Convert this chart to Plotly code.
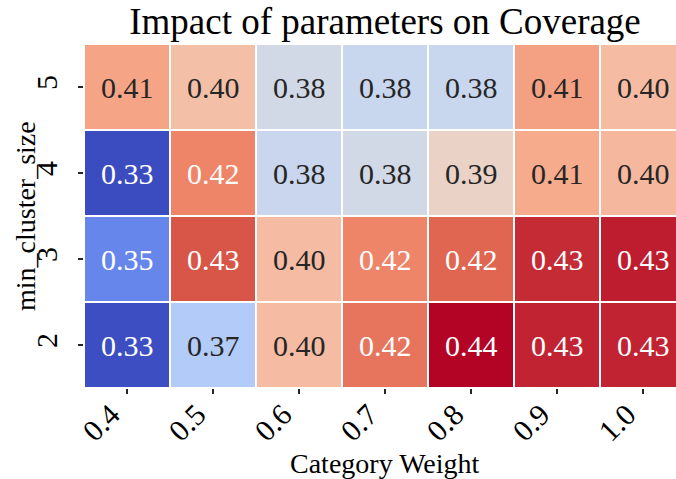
import plotly.graph_objects as go

# ---- data ----
category_weight = ["0.4", "0.5", "0.6", "0.7", "0.8", "0.9", "1.0"]
min_cluster_size = ["2", "3", "4", "5"]  # bottom to top
coverage_size2 = [0.3315, 0.3692, 0.3999, 0.4190, 0.4370, 0.4328, 0.4328]
coverage_size3 = [0.3455, 0.4255, 0.3999, 0.4158, 0.4222, 0.4317, 0.4338]
coverage_size4 = [0.3310, 0.4155, 0.3766, 0.3798, 0.3904, 0.4055, 0.4010]
coverage_size5 = [0.4073, 0.3988, 0.3798, 0.3765, 0.3765, 0.4084, 0.3999]
z = [coverage_size2, coverage_size3, coverage_size4, coverage_size5]

title_text = "Impact of parameters on Coverage"
x_title = "Category Weight"
y_title = "min_cluster_size"

# ---- style ----
coolwarm_hex = ["#3b4cc0", "#5977e3", "#7b9ff9", "#9ebeff", "#c0d4f5", "#dddcdc",
                "#f2cbb7", "#f7ac8e", "#ee8468", "#d65244", "#b40426"]
colorscale = [[i / 10, c] for i, c in enumerate(coolwarm_hex)]
FONT = "Liberation Serif, Times New Roman, serif"

zmin = min(min(r) for r in z)
zmax = max(max(r) for r in z)


def hex2rgb(h):
    h = h.lstrip("#")
    return [int(h[i:i + 2], 16) for i in (0, 2, 4)]


def cmap(t):
    t = max(0.0, min(1.0, t))
    k = min(int(t * 10), 9)
    f = t * 10 - k
    a, b = hex2rgb(coolwarm_hex[k]), hex2rgb(coolwarm_hex[k + 1])
    return [a[i] + (b[i] - a[i]) * f for i in range(3)]


def luminance(rgb):
    out = []
    for c in rgb:
        c = c / 255
        out.append(c / 12.92 if c <= 0.03928 else ((c + 0.055) / 1.055) ** 2.4)
    return 0.2126 * out[0] + 0.7152 * out[1] + 0.0722 * out[2]


fig = go.Figure(go.Heatmap(
    z=z, x=category_weight, y=min_cluster_size,
    colorscale=colorscale, zmin=zmin, zmax=zmax,
    showscale=False, xgap=2, ygap=2, hoverinfo="skip",
))

for ri, row in enumerate(z):
    for ci, v in enumerate(row):
        t = (v - zmin) / (zmax - zmin)
        col = "#262626" if luminance(cmap(t)) > 0.408 else "#ffffff"
        fig.add_annotation(x=ci, y=ri, xref="x", yref="y",
                           text=f"{v:.2f}", showarrow=False,
                           font=dict(family=FONT, size=30, color=col))

W, H = 676, 479
L, R, T, B = 84, 0, 44, 91
col_px = 86
x_end = -0.5 + (W - L - R) / col_px

fig.update_layout(
    width=W, height=H,
    margin=dict(l=L, r=R, t=T, b=B, autoexpand=False),
    paper_bgcolor="white", plot_bgcolor="white",
    font=dict(family=FONT, size=28, color="#000000"),
    title=dict(text=title_text, x=385 / W, xanchor="center", xref="container",
               y=1 - 21 / H, yanchor="middle", yref="container",
               font=dict(family=FONT, size=37, color="#000000")),
    xaxis=dict(type="category", range=[-0.5, x_end], showgrid=False, zeroline=False,
               showline=False, ticks="outside", ticklen=5, tickwidth=1.2,
               tickcolor="#262626", tickangle=-45, automargin=False,
               ticklabelshift=-16, ticklabelstandoff=-9,
               tickfont=dict(family=FONT, size=30, color="#000000")),
    yaxis=dict(type="category", range=[-0.5, 3.5], showgrid=False, zeroline=False,
               showline=False, ticks="outside", ticklen=5, tickwidth=1.2,
               tickcolor="#262626", tickangle=-90, ticklabelstandoff=9,
               automargin=False,
               tickfont=dict(family=FONT, size=30, color="#000000")),
    showlegend=False,
)

fig.add_annotation(text=x_title, xref="paper", yref="paper",
                   x=(385 - L) / (W - L - R), y=(388 - 463) / (H - T - B),
                   xanchor="center", yanchor="middle", showarrow=False,
                   font=dict(family=FONT, size=28, color="#000000"))
fig.add_annotation(text=y_title, xref="paper", yref="paper",
                   x=(25 - L) / (W - L - R), y=0.5, textangle=-90,
                   xanchor="center", yanchor="middle", showarrow=False,
                   font=dict(family=FONT, size=28, color="#000000"))

fig.write_html("out.html",
               config={"displayModeBar": False, "staticPlot": True},
               post_script="document.body.style.margin='0';"
                           "document.body.style.overflow='hidden';")
